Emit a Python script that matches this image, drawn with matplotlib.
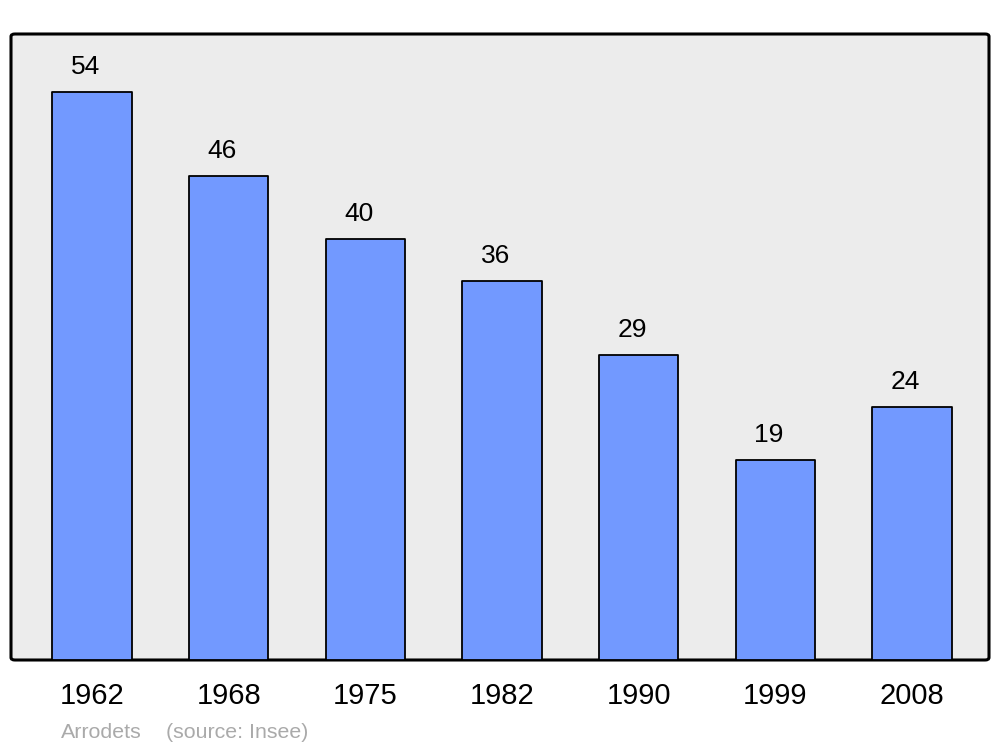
import matplotlib
matplotlib.use("Agg")
import matplotlib.pyplot as plt
from matplotlib.patches import FancyBboxPatch

years = ["1962", "1968", "1975", "1982", "1990", "1999", "2008"]
population = [54, 46, 40, 36, 29, 19, 24]

plt.rcParams['font.family'] = ['Liberation Sans', 'DejaVu Sans']

fig = plt.figure(figsize=(10, 7.47), dpi=100)
ax = fig.add_axes([0.011, 1 - 660 / 747, 0.978, (660 - 34) / 747])
ax.set_facecolor('none')
for s in ax.spines.values():
    s.set_visible(False)

frame = FancyBboxPatch((0, 0), 1, 1, boxstyle="round,pad=0,rounding_size=0.004",
                       transform=ax.transAxes, facecolor='#ececec', edgecolor='black',
                       linewidth=2.2, zorder=0, clip_on=False)
ax.add_patch(frame)

x = list(range(len(years)))
bars = ax.bar(x, population, width=0.58, color='#7299ff', edgecolor='black',
              linewidth=1.3, zorder=2)
for b in bars:
    b.set_joinstyle('round')

for xi, v in zip(x, population):
    ax.annotate(str(v), (xi, v), xytext=(-4.5, 13), textcoords='offset points',
                ha='center', va='baseline', fontsize=19, color='black')

ax.set_xlim(-0.593, 6.563)
ax.set_ylim(0, 59.5)
ax.set_xticks(x)
ax.set_xticklabels(years, fontsize=21)
ax.tick_params(axis='x', length=0, pad=16)
ax.set_yticks([])

fig.text(0.061, 1 - 738 / 747, "Arrodets", fontsize=15.4, color='#aaaaaa', va='baseline')
fig.text(0.166, 1 - 738 / 747, "(source: Insee)", fontsize=15.4, color='#aaaaaa', va='baseline')

fig.savefig("out.png", dpi=100)
